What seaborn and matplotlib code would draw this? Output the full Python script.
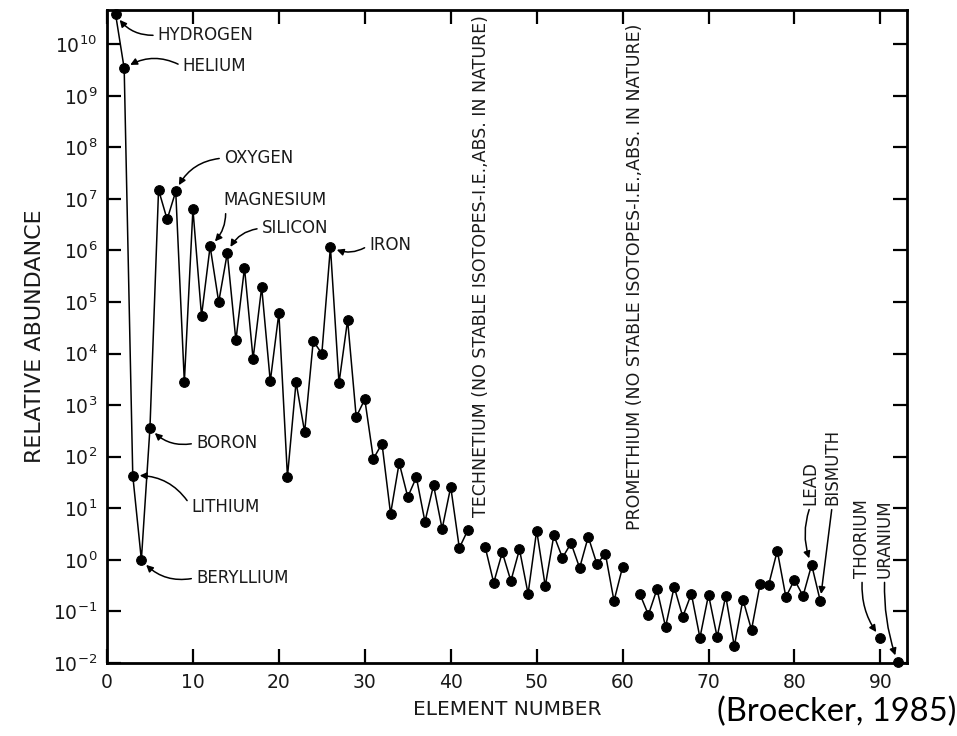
import numpy as np
import pandas as pd
import matplotlib
matplotlib.use("Agg")
import matplotlib.pyplot as plt
import seaborn as sns
from matplotlib.ticker import FixedLocator, LogFormatterMathtext, NullLocator

# Solar-system abundance of the elements (relative, log scale)
element_number = [
    1, 2, 3, 4, 5, 6, 7, 8, 9, 10,
    11, 12, 13, 14, 15, 16, 17, 18, 19, 20,
    21, 22, 23, 24, 25, 26, 27, 28, 29, 30,
    31, 32, 33, 34, 35, 36, 37, 38, 39, 40,
    41, 42, 44, 45, 46, 47, 48, 49, 50,
    51, 52, 53, 54, 55, 56, 57, 58, 59, 60,
    62, 63, 64, 65, 66, 67, 68, 69, 70,
    71, 72, 73, 74, 75, 76, 77, 78, 79, 80,
    81, 82, 83, 90, 92,
]
abundance = [
    3.8e10, 3.4e9, 43, 1.0, 360, 1.5e7, 4.0e6, 1.4e7, 2800, 6.3e6,
    5.4e4, 1.2e6, 1.0e5, 8.9e5, 1.8e4, 4.6e5, 7.9e3, 1.95e5, 2.9e3, 6.1e4,
    41, 2800, 300, 1.75e4, 1.0e4, 1.17e6, 2700, 4.5e4, 590, 1300,
    91, 180, 7.8, 76, 16.6, 40, 5.5, 28, 4.0, 26,
    1.7, 3.8, 1.8, 0.36, 1.4, 0.39, 1.6, 0.22, 3.7,
    0.31, 3.0, 1.1, 2.1, 0.70, 2.8, 0.84, 1.3, 0.16, 0.73,
    0.22, 0.086, 0.27, 0.050, 0.30, 0.079, 0.22, 0.031, 0.21,
    0.032, 0.20, 0.021, 0.17, 0.044, 0.34, 0.33, 1.5, 0.19, 0.41,
    0.20, 0.80, 0.16, 0.031, 0.0105,
]

named_elements = ["HYDROGEN", "HELIUM", "OXYGEN", "MAGNESIUM", "SILICON", "IRON",
                  "BORON", "LITHIUM", "BERYLLIUM", "LEAD", "BISMUTH", "THORIUM", "URANIUM"]
named_numbers = [1, 2, 8, 12, 14, 26, 5, 3, 4, 82, 83, 90, 92]

x_ticks = [0, 10, 20, 30, 40, 50, 60, 70, 80, 90]
y_ticks = [10.0 ** k for k in range(-2, 11)]

df = pd.DataFrame({"element": element_number, "abundance": abundance})
# a new line segment starts wherever an element is missing
df["segment"] = (df["element"].diff().fillna(1) > 1).cumsum()
# Th and U are shown as isolated points
df.loc[df["element"] == 92, "segment"] += 1

sns.set_style("ticks")
plt.rcParams["font.family"] = ["DejaVu Sans"]

INK = "#1a1a1a"

fig = plt.figure(figsize=(9.57, 7.36), dpi=100)
ax = fig.add_axes([0.1118, 0.0992, 0.836, 0.887])

sns.lineplot(data=df, x="element", y="abundance", units="segment", estimator=None,
             color="black", linewidth=1.1, marker="o", markersize=7,
             markeredgecolor="black", markerfacecolor="black", ax=ax, clip_on=False,
             legend=False)

ax.set_yscale("log")
ax.set_xlim(0, 93.1)
ax.set_ylim(1e-2, 10 ** 10.66)

ax.xaxis.set_major_locator(FixedLocator(x_ticks))
ax.xaxis.set_minor_locator(NullLocator())
ax.yaxis.set_major_locator(FixedLocator(y_ticks))
ax.yaxis.set_minor_locator(NullLocator())
ax.yaxis.set_major_formatter(LogFormatterMathtext())
ax.tick_params(axis="both", which="major", direction="in", length=10, width=1.6,
               top=True, right=True, labelsize=13.5, color="black", labelcolor=INK,
               pad=7)

for side in ["left", "right", "top", "bottom"]:
    ax.spines[side].set_visible(True)
    ax.spines[side].set_linewidth(2.0)
    ax.spines[side].set_color("black")

ax.set_xlabel("ELEMENT NUMBER", fontsize=14.5, color=INK, labelpad=6)
ax.set_ylabel("RELATIVE ABUNDANCE", fontsize=16, color=INK, labelpad=6)

# label placements (text anchor in data coordinates) and bend of the leader arrows
horizontal_labels = {
    "HYDROGEN": (5.9, 1.5e10, -0.3),
    "HELIUM": (8.8, 3.7e9, 0.3),
    "OXYGEN": (13.6, 6.2e7, 0.3),
    "MAGNESIUM": (13.6, 9.5e6, -0.3),
    "SILICON": (18.0, 2.7e6, 0.3),
    "IRON": (30.5, 1.27e6, -0.3),
    "BORON": (10.35, 185, -0.3),
    "LITHIUM": (9.8, 10.7, 0.3),
    "BERYLLIUM": (10.35, 0.45, -0.3),
}
vertical_labels = {
    "LEAD": (81.9, 11.6, 0.2),
    "BISMUTH": (84.4, 11.6, 0.0),
    "THORIUM": (87.9, 0.45, 0.2),
    "URANIUM": (90.5, 0.45, 0.1),
}

lookup = dict(zip(element_number, abundance))
arrow_base = dict(arrowstyle="-|>", color="black", lw=1.1, mutation_scale=10,
                  shrinkA=1, shrinkB=5)

for name, number in zip(named_elements, named_numbers):
    target = (number, lookup[number])
    if name in horizontal_labels:
        tx, ty, rad = horizontal_labels[name]
        ax.annotate(name, xy=target, xytext=(tx, ty), textcoords="data",
                    ha="left", va="center", fontsize=12, color=INK,
                    arrowprops=dict(arrow_base, relpos=(0, 0.5),
                                    connectionstyle=f"arc3,rad={rad}"),
                    annotation_clip=False)
    else:
        tx, ty, rad = vertical_labels[name]
        ax.annotate(name, xy=target, xytext=(tx, ty), textcoords="data",
                    ha="center", va="bottom", rotation=90, fontsize=12,
                    color=INK,
                    arrowprops=dict(arrow_base, relpos=(0.5, 0),
                                    connectionstyle=f"arc3,rad={rad}"),
                    annotation_clip=False)

ax.text(43.5, 6.8, "TECHNETIUM (NO STABLE ISOTOPES-I.E.,ABS. IN NATURE)",
        rotation=90, ha="center", va="bottom", fontsize=12.5, color=INK)
ax.text(61.4, 3.8, "PROMETHIUM (NO STABLE ISOTOPES-I.E.,ABS. IN NATURE)",
        rotation=90, ha="center", va="bottom", fontsize=12.5, color=INK)

fig.text(0.9995, 0.012, "(Broecker, 1985)", ha="right", va="bottom",
         fontsize=23.5, family=["Lato", "DejaVu Sans"], color="black")

fig.savefig("out.png", dpi=100, facecolor="white")
